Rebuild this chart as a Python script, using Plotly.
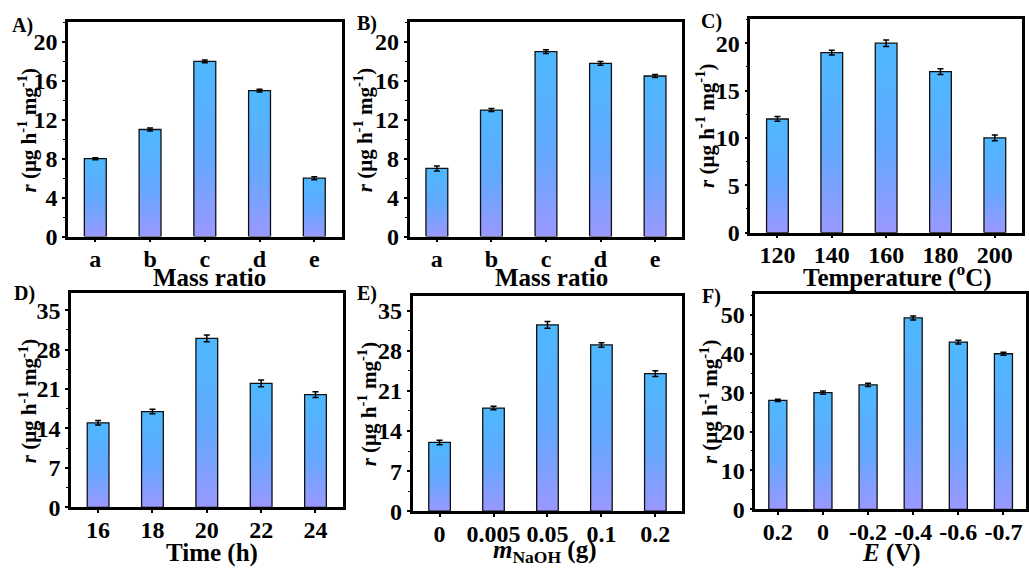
import plotly.graph_objects as go

# ---------------- data ----------------
cats_A = ["a", "b", "c", "d", "e"]
vals_A = [8.0, 11.0, 18.0, 15.0, 6.0]
err_A = [0.1, 0.15, 0.15, 0.15, 0.15]

cats_B = ["a", "b", "c", "d", "e"]
vals_B = [7.0, 13.0, 19.0, 17.8, 16.5]
err_B = [0.25, 0.15, 0.2, 0.2, 0.15]

cats_C = ["120", "140", "160", "180", "200"]
vals_C = [12.0, 19.0, 20.0, 17.0, 10.0]
err_C = [0.25, 0.25, 0.35, 0.3, 0.3]

cats_D = ["16", "18", "20", "22", "24"]
vals_D = [15.0, 17.0, 30.0, 22.0, 20.0]
err_D = [0.4, 0.4, 0.6, 0.6, 0.5]

cats_E = ["0", "0.005", "0.05", "0.1", "0.2"]
vals_E = [12.0, 18.0, 32.5, 29.0, 24.0]
err_E = [0.4, 0.3, 0.6, 0.4, 0.5]

cats_F = ["0.2", "0", "-0.2", "-0.4", "-0.6", "-0.7"]
vals_F = [28.0, 30.0, 32.0, 49.2, 43.0, 40.0]
err_F = [0.3, 0.4, 0.4, 0.5, 0.5, 0.4]

W, H = 1029, 579
FONT = "Liberation Serif"
TICK_SIZE = 24
TITLE_SIZE = 25

panels = [
    dict(label="A)", cats=cats_A, vals=vals_A, err=err_A, box=(68, 342, 23, 242), yr=22, dt=4,
         xt="Mass ratio", xtpos=(210, 284), ytx=28, lab=(23, 26)),
    dict(label="B)", cats=cats_B, vals=vals_B, err=err_B, box=(410, 683, 23, 242), yr=22, dt=4,
         xt="Mass ratio", xtpos=(552, 284), ytx=364, lab=(367, 24)),
    dict(label="C)", cats=cats_C, vals=vals_C, err=err_C, box=(751, 1023, 19, 238), yr=22.6, dt=5,
         xt="Temperature (<sup>o</sup>C)", xtpos=(898, 282), ytx=706, lab=(712, 22)),
    dict(label="D)", cats=cats_D, vals=vals_D, err=err_D, box=(71, 343, 300, 519), yr=38, dt=7,
         xt="Time (h)", xtpos=(212, 566), ytx=28, lab=(25, 300)),
    dict(label="E)", cats=cats_E, vals=vals_E, err=err_E, box=(413, 683, 303, 523), yr=37.5, dt=7,
         xt="<i>m</i><sub>NaOH</sub> (g)", xtpos=(545, 564), ytx=368, lab=(367, 300)),
    dict(label="F)", cats=cats_F, vals=vals_F, err=err_F, box=(756, 1027, 301, 521), yr=55.3, dt=10,
         xt="<i>E</i> (V)", xtpos=(892, 566), ytx=710, lab=(712, 303)),
]

BAR_W = 0.4
grad = dict(type="vertical",
            colorscale=[[0, "#9A98FF"], [0.45, "#64A8FF"], [1, "#4DB8FF"]])

fig = go.Figure()
annotations = []
layout = {}

for k, p in enumerate(panels):
    n = k + 1
    xa = "x" if n == 1 else f"x{n}"
    ya = "y" if n == 1 else f"y{n}"
    xkey = "xaxis" if n == 1 else f"xaxis{n}"
    ykey = "yaxis" if n == 1 else f"yaxis{n}"
    x0, x1, y0, y1 = p["box"]
    pos = list(range(len(p["cats"])))

    for i, v in zip(pos, p["vals"]):
        fig.add_trace(go.Scatter(
            x=[i - BAR_W / 2, i - BAR_W / 2, i + BAR_W / 2, i + BAR_W / 2, i - BAR_W / 2],
            y=[0, v, v, 0, 0],
            mode="lines", fill="toself", fillgradient=grad,
            line=dict(color="#111111", width=1.3),
            xaxis=xa, yaxis=ya, showlegend=False, hoverinfo="skip"))
    fig.add_trace(go.Scatter(
        x=pos, y=p["vals"], mode="markers",
        marker=dict(size=1, color="rgba(0,0,0,0)"),
        error_y=dict(type="data", array=p["err"], visible=True, color="#000000",
                     thickness=1.5, width=3),
        xaxis=xa, yaxis=ya, showlegend=False))

    layout[xkey] = dict(
        domain=[x0 / W, x1 / W], anchor=ya, range=[-0.5, len(pos) - 0.5],
        tickmode="array", tickvals=pos, ticktext=p["cats"],
        showline=True, linecolor="black", linewidth=2.5, mirror=True,
        ticks="outside", ticklen=3, tickwidth=1.5, tickcolor="black",
        showgrid=False, zeroline=False, ticklabelstandoff=-4, tickangle=0,
        tickfont=dict(family=FONT, size=TICK_SIZE, color="black", weight="bold"))
    layout[ykey] = dict(
        domain=[1 - y1 / H, 1 - y0 / H], anchor=xa, range=[0, p["yr"]],
        tickmode="linear", tick0=0, dtick=p["dt"],
        showline=True, linecolor="black", linewidth=2.5, mirror=True,
        ticks="outside", ticklen=3, tickwidth=1.5, tickcolor="black",
        minor=dict(ticks="outside", ticklen=2, tickwidth=1, tickcolor="black",
                   dtick=p["dt"] / 2, tick0=0, showgrid=False),
        showgrid=False, zeroline=False, ticklabelstandoff=0,
        tickfont=dict(family=FONT, size=TICK_SIZE, color="black", weight="bold"))

    # x title
    annotations.append(dict(
        text=p["xt"], x=p["xtpos"][0] / W, y=1 - p["xtpos"][1] / H,
        xref="paper", yref="paper", xanchor="center", yanchor="middle",
        showarrow=False, font=dict(family=FONT, size=TITLE_SIZE, color="black", weight="bold")))
    # y title
    annotations.append(dict(
        text="<i>r</i> (μg h<sup>-1</sup> mg<sup>-1</sup>)",
        x=p["ytx"] / W, y=1 - ((y0 + y1) / 2) / H, textangle=-90,
        xref="paper", yref="paper", xanchor="center", yanchor="middle",
        showarrow=False, font=dict(family=FONT, size=21, color="black", weight="bold")))
    # panel label
    annotations.append(dict(
        text=p["label"], x=p["lab"][0] / W, y=1 - p["lab"][1] / H,
        xref="paper", yref="paper", xanchor="center", yanchor="middle",
        showarrow=False, font=dict(family=FONT, size=20, color="black", weight="bold")))

fig.update_layout(
    width=W, height=H, margin=dict(l=0, r=0, t=0, b=0),
    paper_bgcolor="white", plot_bgcolor="white",
    annotations=annotations, **layout)

fig.write_html("out.html")
